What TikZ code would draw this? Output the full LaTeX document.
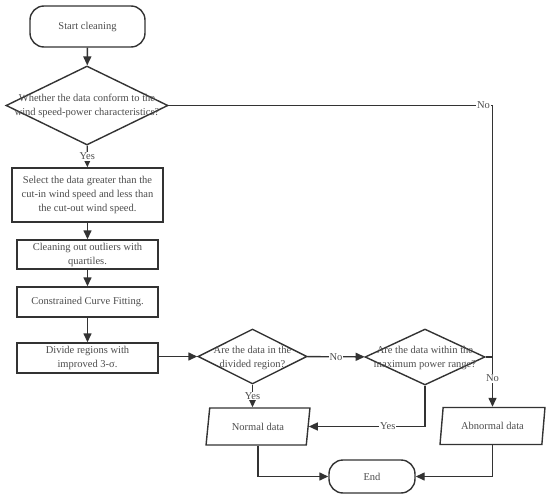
\documentclass[tikz,border=0pt]{standalone}
\usepackage{fontspec}
\setmainfont{Liberation Serif}
\usetikzlibrary{shapes.geometric,arrows.meta}
\definecolor{lc}{HTML}{333333}
\definecolor{tc}{HTML}{4D4D4D}
\begin{document}
\begin{tikzpicture}[x=1pt,y=-1pt,
  font=\fontsize{10.5}{14}\selectfont,
  every node/.style={text=tc},
  base/.style={draw=lc, line width=1.4pt, align=center, inner sep=0pt},
  term/.style={base, rectangle, rounded corners=14pt},
  proc/.style={base, rectangle},
  dec/.style={base, diamond},
  io/.style={base, trapezium, trapezium left angle=75, trapezium right angle=105, trapezium stretches=true},
  conn/.style={draw=lc, line width=1.4pt},
  arr/.style={conn, -{Triangle[length=9pt,width=8pt]}},
  lab/.style={fill=white, inner sep=1pt, text=tc}]
\useasboundingbox (0,0) rectangle (550,498);
\fill[white] (0,0) rectangle (550,498);

\node[term, minimum width=115pt, minimum height=41pt] (start) at (87.5,26.5) {Start cleaning};
\node[dec, minimum width=162pt, minimum height=79pt] (d1) at (87,105.5) {};
\node[align=center, inner sep=0pt] (d1t) at (87,106) {Whether the data conform to the\\wind speed-power characteristics?};
\node[proc, minimum width=151pt, minimum height=54pt] (b1) at (87.5,195) {Select the data greater than the\\cut-in wind speed and less than\\the cut-out wind speed.};
\node[proc, minimum width=141pt, minimum height=29pt] (b2) at (87.5,254.5) {Cleaning out outliers with\\quartiles.};
\node[proc, minimum width=141pt, minimum height=30pt] (b3) at (87.5,302) {Constrained Curve Fitting.};
\node[proc, minimum width=141pt, minimum height=30pt] (b4) at (87.5,358) {Divide regions with\\improved 3-σ.};
\node[dec, minimum width=109pt, minimum height=55pt] (d2) at (252.5,356.5) {};
\node[align=center, inner sep=0pt] (d2t) at (252.5,357.5) {Are the data in the\\divided region?};
\node[dec, minimum width=120pt, minimum height=56pt] (d3) at (425,357) {};
\node[align=center, inner sep=0pt] (d3t) at (425,358) {Are the data within the\\maximum power range?};
\node[io, minimum width=104pt, minimum height=37pt] (n) at (258,426.5) {Normal data};
\node[io, minimum width=105pt, minimum height=37pt] (ab) at (492.5,426) {Abnormal data};
\node[term, minimum width=86pt, minimum height=33pt] (end) at (372,476.5) {End};

\draw[arr] (start) -- (d1);
\draw[arr] (d1) -- node[lab]{Yes} (b1);
\draw[arr] (b1) -- (b2);
\draw[arr] (b2) -- (b3);
\draw[arr] (b3) -- (b4);
\draw[arr] (b4.east |- d2.west) -- (d2.west);
\draw[arr] (d2) -- node[lab]{No} (d3);
\draw[arr] (d1.east) -- node[lab, pos=0.972]{No} (d1.east -| ab.north) -- (ab.north);
\coordinate (j) at (d3.east -| ab.north);
\draw[conn] (d3.east) -- (j);
\path (j) -- node[lab, pos=0.43]{No} (ab.north);
\draw[arr] (d2.south) -- node[lab]{Yes} (d2.south |- n.north);
\draw[arr] (d3.south) |- node[lab, pos=0.66]{Yes} (n.east);
\draw[arr] (n.south) |- (end.west);
\draw[arr] (ab.south) |- (end.east);
\end{tikzpicture}
\end{document}
